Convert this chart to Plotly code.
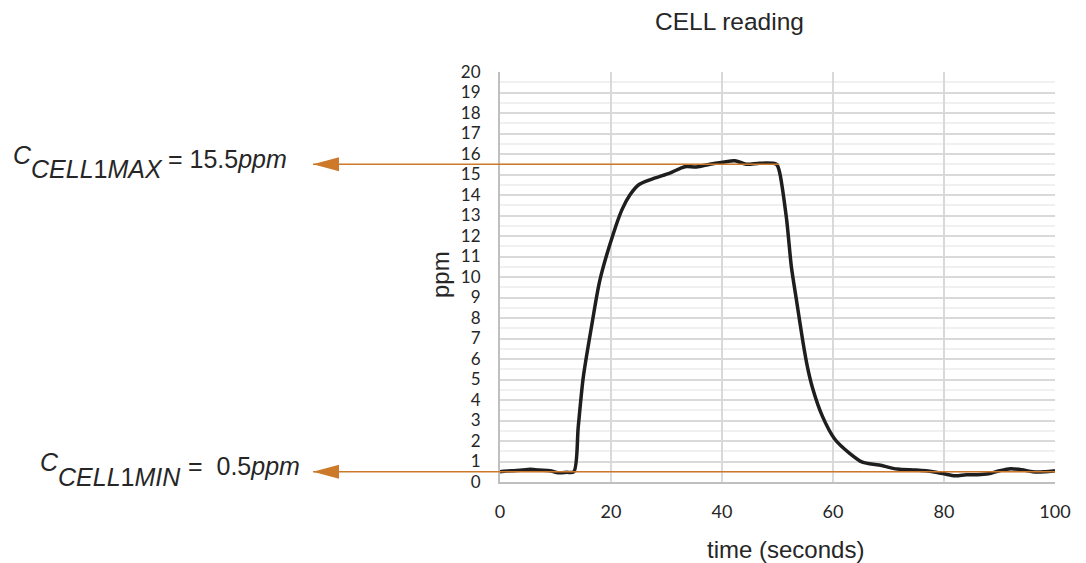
import plotly.graph_objects as go

# ---- data ----
time_s = [0, 2, 4, 5.5, 7, 9, 10.5, 12, 13.3, 14.1, 15, 16.5, 18, 20.4, 22, 23.4, 25,
          27.6, 30.6, 33.3, 35.4, 37.8, 40.2, 42.3, 44.4, 46.8, 49.8, 50.3, 51.6, 52.5,
          53.4, 54.6, 55.4, 56.3, 58.1, 60.3, 63, 65.3, 68.3, 71.6, 75, 78, 80, 82, 84, 86,
          88, 90, 92, 94, 96, 98, 100]
ppm = [0.5, 0.55, 0.58, 0.62, 0.58, 0.55, 0.45, 0.47, 0.5, 2.7, 5.1, 7.6, 9.85, 12.1,
       13.3, 14.0, 14.5, 14.8, 15.07, 15.38, 15.37, 15.5, 15.6, 15.67, 15.5, 15.55, 15.5,
       15.2, 12.9, 10.5, 8.9, 6.8, 5.6, 4.6, 3.2, 2.1, 1.4, 0.97, 0.83, 0.63, 0.58, 0.5, 0.4,
       0.3, 0.35, 0.35, 0.4, 0.55, 0.65, 0.6, 0.5, 0.5, 0.55]
c_max = 15.5
c_min = 0.5
max_line_end = 50.3     # seconds, where the max marker line stops
x_ticks = [0, 20, 40, 60, 80, 100]
y_ticks = list(range(0, 21))

# ---- layout geometry (page body has an 8px default margin) ----
OFF = 8
W, H = 1086, 563
SX0, SX1, SY0, SY1 = 500, 1055, 72, 482   # plot area in screen pixels
L, T = SX0 - OFF, SY0 - OFF
PW, PH = SX1 - SX0, SY1 - SY0
R, B = W - L - PW, H - T - PH
XR = [0, 100]
YR = [0, 20]


def px_x(p):
    return (p - SX0) / PW


def px_y(p):
    return 1 - (p - SY0) / PH


ORANGE = "#CC7A2A"
TXT = "#262626"
ARIAL = "Liberation Sans, Arial, sans-serif"
TICKFONT = "Lato, Open Sans, sans-serif"

fig = go.Figure()
fig.add_trace(go.Scatter(
    x=time_s, y=ppm, mode="lines",
    line=dict(color="#1e1e1e", width=3.5, shape="spline", smoothing=0.8),
    showlegend=False, hoverinfo="skip"))

shapes = []
annotations = []
tip_x = px_x(313)
base_x = px_x(339)
half_h = 7 / PH * (YR[1] - YR[0])
for val, x_end in [(c_max, (max_line_end - XR[0]) / (XR[1] - XR[0])), (c_min, 1.0)]:
    shapes.append(dict(type="line", xref="paper", yref="y", x0=tip_x, x1=x_end,
                       y0=val, y1=val, line=dict(color=ORANGE, width=1.5), layer="above"))
    shapes.append(dict(type="path", xref="paper", yref="y",
                       path=f"M {tip_x} {val} L {base_x} {val + half_h} L {base_x} {val - half_h} Z",
                       fillcolor=ORANGE, line=dict(color=ORANGE, width=0), layer="above"))

fs = 25
labels = [
    # (text, left px, middle px)
    ("<i>C</i>", 11, 155),
    ("<i>CELL</i>1<i>MAX</i>", 29, 169),
    (f"= {c_max}<i>ppm</i>", 166, 159),
    ("<i>C</i>", 38, 462),
    ("<i>CELL</i>1<i>MIN</i>", 56, 477),
    (f"= \u00a0{c_min}<i>ppm</i>", 186, 466),
]
for text, lx, my in labels:
    annotations.append(dict(text=text, xref="paper", yref="paper", x=px_x(lx), y=px_y(my),
                            xanchor="left", yanchor="middle", showarrow=False,
                            font=dict(family=ARIAL, size=fs, color=TXT)))

annotations.append(dict(text="CELL reading", xref="paper", yref="paper", x=px_x(729.5), y=px_y(22),
                        xanchor="center", yanchor="middle", showarrow=False,
                        font=dict(family=ARIAL, size=24.5, color=TXT)))
annotations.append(dict(text="time (seconds)", xref="paper", yref="paper", x=px_x(785), y=px_y(549),
                        xanchor="center", yanchor="middle", showarrow=False,
                        font=dict(family=ARIAL, size=24, color=TXT)))
annotations.append(dict(text="ppm", xref="paper", yref="paper", x=px_x(440), y=px_y(275),
                        xanchor="center", yanchor="middle", showarrow=False, textangle=-90,
                        font=dict(family=ARIAL, size=24, color=TXT)))

fig.update_layout(
    width=W, height=H, margin=dict(l=L, r=R, t=T, b=B),
    paper_bgcolor="white", plot_bgcolor="white",
    shapes=shapes, annotations=annotations,
    xaxis=dict(range=XR, tickvals=x_ticks, showgrid=True, gridcolor="#d9d9d9", gridwidth=2,
               zeroline=False, showline=True, linecolor="#bfbfbf", linewidth=2,
               ticks="", ticklabelstandoff=12,
               tickfont=dict(family=TICKFONT, size=18, color=TXT)),
    yaxis=dict(range=YR, tickvals=y_ticks, showgrid=True, gridcolor="#d9d9d9", gridwidth=1.5,
               zeroline=False, showline=True, linecolor="#bfbfbf", linewidth=2,
               ticks="", ticklabelstandoff=14,
               minor=dict(dtick=0.5, showgrid=True, gridcolor="#f0f0f0", gridwidth=1.5),
               tickfont=dict(family=TICKFONT, size=17, color=TXT)),
)

fig.write_html("out.html")
